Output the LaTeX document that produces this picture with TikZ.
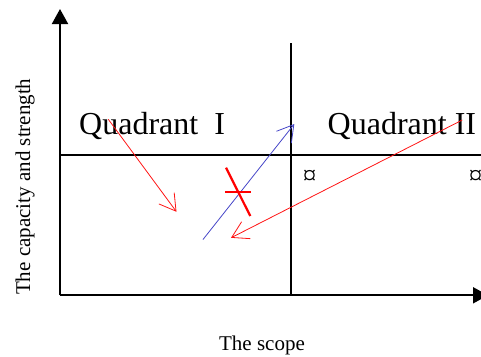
\documentclass[tikz,border=0pt]{standalone}
\usepackage{fontspec}
\setmainfont{Liberation Serif}
\usetikzlibrary{arrows.meta}
\definecolor{arrowred}{RGB}{255,20,20}
\definecolor{arrowblue}{RGB}{70,70,200}
\begin{document}
\begin{tikzpicture}[x=1pt,y=-1pt,
  axisline/.style={line width=2pt,black},
  divline/.style={line width=1.8pt,black},
  thinarrow/.style={line width=0.8pt,-{Straight Barb[length=16pt,width=19pt,line width=0.8pt]}},
  quad/.style={font=\fontsize{32}{36}\selectfont,inner sep=0pt,anchor=base west},
  axlabel/.style={font=\fontsize{21}{24}\selectfont,inner sep=0pt,anchor=base},
  curr/.style={font=\fontsize{27}{30}\selectfont,inner sep=0pt}]
\useasboundingbox (0,0) rectangle (481,356);
% axes
\coordinate (O) at (60,295.3);
\coordinate (ytip) at (60,9);
\coordinate (xtip) at (488,295.3);
\draw[axisline,-{Triangle[length=15pt,width=16pt]}] (O) -- (ytip);
\draw[axisline,-{Triangle[length=15pt,width=16pt]}] (O) -- (xtip);
% dividers
\coordinate (vtop) at (291.3,43.3);
\coordinate (vbot) at (291.3,295.3);
\coordinate (hl) at (60,155.3);
\coordinate (hr) at (482,155.3);
\draw[divline] (vtop) -- (vbot);
\draw[divline] (hl) -- (hr);
% labels
\node[quad] (q1) at (79,134.3) {Quadrant\ \ I};
\node[quad] (q2) at (327.5,134.3) {Quadrant II};
\node[axlabel,rotate=90] (ylab) at (30,186.7) {The capacity and strength};
\node[axlabel] (xlab) at (262,350.6) {The scope};
\node[curr] (c1) at (309.7,177) {¤};
\node[curr] (c2) at (475.5,177) {¤};
% arrows
\coordinate (r1s) at (108.3,119.3);
\coordinate (r1e) at (176.5,211.8);
\draw[thinarrow,arrowred] (r1s) -- (r1e);
\coordinate (bs) at (203,239.5);
\coordinate (be) at (294.3,124);
\draw[thinarrow,arrowblue] (bs) -- (be);
\coordinate (r2s) at (462.3,120);
\coordinate (r2e) at (231,237.8);
\draw[thinarrow,arrowred] (r2s) -- (r2e);
% red cross mark
\coordinate (m1) at (226,167.7);
\coordinate (m2) at (250.3,216);
\coordinate (m3) at (225.3,191.7);
\coordinate (m4) at (251,191.7);
\draw[red,line width=2.2pt] (m1) -- (m2);
\draw[red,line width=2.2pt] (m3) -- (m4);
\end{tikzpicture}
\end{document}
